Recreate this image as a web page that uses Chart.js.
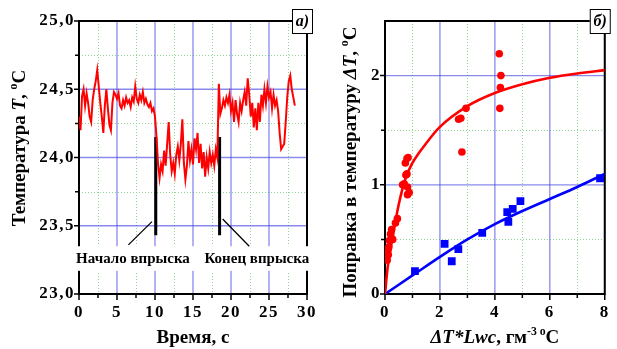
<!DOCTYPE html>
<html>
<head>
<meta charset="utf-8">
<script src="https://cdn.jsdelivr.net/npm/chart.js@4.4.1/dist/chart.umd.min.js"></script>
<style>
  html, body { margin: 0; padding: 0; background: #fff; }
  #wrap { position: relative; width: 617px; height: 349px; }
  #wrap canvas { position: absolute; left: 0; top: 0; }
</style>
</head>
<body>
<div id="wrap">
  <canvas id="tempChart" width="617" height="349"></canvas>
  <canvas id="corrChart" width="617" height="349"></canvas>
</div>
<script>
// --- panel a: temperature record, one sample every 0.2 s ---
const sampleStep = 0.2;
const temperature = [
  24.30, 24.20, 24.45, 24.50, 24.38, 24.47, 24.40, 24.30, 24.26, 24.42,
  24.50, 24.56, 24.64, 24.52, 24.40, 24.30, 24.18, 24.38, 24.50, 24.36,
  24.24, 24.20, 24.40, 24.48, 24.46, 24.43, 24.47, 24.38, 24.36, 24.42,
  24.38, 24.44, 24.40, 24.42, 24.37, 24.44, 24.41, 24.52, 24.43, 24.40,
  24.46, 24.42, 24.48, 24.40, 24.43, 24.39, 24.37, 24.40, 24.34, 24.36,
  24.30, 24.15, 23.95, 23.85, 23.95, 23.90, 24.05, 23.94, 24.10, 24.26,
  24.02, 23.90, 23.96, 23.88, 24.02, 24.08, 23.98, 24.10, 24.28, 23.96,
  23.84, 23.94, 24.12, 23.98, 24.06, 23.95, 24.14, 24.06, 24.18, 23.96,
  24.10, 23.92, 24.04, 23.86, 24.00, 23.92, 24.04, 23.96, 24.02, 23.94,
  24.06, 24.00, 24.54, 24.32, 24.36, 24.42, 24.38, 24.44, 24.40, 24.46,
  24.34, 24.40, 24.26, 24.42, 24.32, 24.26, 24.40, 24.34, 24.42, 24.48,
  24.38, 24.58, 24.46, 24.30, 24.40, 24.22, 24.36, 24.20, 24.40, 24.26,
  24.46, 24.38, 24.50, 24.40, 24.52, 24.44, 24.48, 24.36, 24.46, 24.38,
  24.42, 24.34, 24.18, 24.06, 24.08, 24.10, 24.26, 24.44, 24.56, 24.60,
  24.50, 24.44, 24.38
];
const injStart = 10.1;     // s
const injEnd = 18.5;       // s
const injMarkTop = 24.15;
const injMarkBottom = 23.43;
const startArrow = [{ x: 6.5, y: 23.36 }, { x: 9.6, y: 23.53 }];
const endArrow = [{ x: 18.9, y: 23.55 }, { x: 22.4, y: 23.35 }];

const tempXTicks = [0, 5, 10, 15, 20, 25, 30];
const tempXMinor = [2.5, 7.5, 12.5, 17.5, 22.5, 27.5];
const tempYTicks = [23.0, 23.5, 24.0, 24.5, 25.0];
const tempYMinor = [23.25, 23.75, 24.25, 24.75];

// --- panel б: correction vs ΔT*Lwc ---
const redX = [0.06, 0.08, 0.10, 0.12, 0.14, 0.16, 0.20, 0.24, 0.28, 0.38, 0.45,
              0.64, 0.70, 0.76, 0.80, 0.82, 0.82, 0.88, 0.74, 0.80, 0.84,
              2.68, 2.76, 2.80, 2.95, 4.18, 4.20, 4.22, 4.16];
const redY = [0.36, 0.31, 0.40, 0.36, 0.43, 0.49, 0.55, 0.59, 0.50, 0.65, 0.69,
              1.00, 1.01, 1.09, 1.10, 0.98, 0.91, 0.93, 1.20, 1.24, 1.25,
              1.60, 1.61, 1.30, 1.70, 1.70, 1.89, 2.00, 2.20];
const blueX = [1.09, 2.17, 2.43, 2.67, 3.54, 4.45, 4.49, 4.65, 4.93, 7.83];
const blueY = [0.21, 0.46, 0.30, 0.41, 0.56, 0.75, 0.66, 0.78, 0.85, 1.06];
const redFitX = [0, 0.1, 0.25, 0.5, 0.75, 1, 1.5, 2, 3, 4, 5, 6, 7, 8];
const redFitY = [0, 0.25, 0.48, 0.82, 1.06, 1.20, 1.38, 1.53, 1.72, 1.84, 1.92, 1.98, 2.02, 2.05];
const blueFitX = [0, 1, 2, 3, 4, 5, 6, 7, 8];
const blueFitY = [0, 0.17, 0.34, 0.50, 0.64, 0.76, 0.87, 0.98, 1.10];

const corrXTicks = [0, 2, 4, 6, 8];
const corrXMinor = [1, 3, 5, 7];
const corrYTicks = [0, 1, 2];
const corrYMinor = [0.5, 1.5];

const serif = '"Liberation Serif", "Times New Roman", serif';
const toXY = (xs, ys) => xs.map((x, i) => ({ x: x, y: ys[i] }));

// text made of plain / italic / superscript pieces, centred on (cx, cy)
function drawRich(ctx, parts, cx, cy, size, angle) {
  const fontOf = p => (p.i ? 'italic ' : '') + 'bold ' + (p.sup ? size * 0.62 : size) + 'px ' + serif;
  let total = 0;
  parts.forEach(p => { ctx.font = fontOf(p); total += ctx.measureText(p.t).width; });
  ctx.save();
  ctx.translate(cx, cy);
  ctx.rotate(angle || 0);
  ctx.fillStyle = '#000';
  ctx.textBaseline = 'alphabetic';
  ctx.textAlign = 'left';
  let x = -total / 2;
  const base = size * 0.34;
  parts.forEach(p => {
    ctx.font = fontOf(p);
    ctx.fillText(p.t, x, p.sup ? base - size * 0.42 : base);
    x += ctx.measureText(p.t).width;
  });
  ctx.restore();
}

function panelDecor(cfg) {
  return {
    id: 'panelDecor',
    beforeDraw(chart) {
      // wider spacing for the tick numbers
      chart.ctx.letterSpacing = '1.5px';
    },
    beforeDatasetsDraw(chart) {
      const { ctx, chartArea: a, scales: { x, y } } = chart;
      ctx.letterSpacing = '0px';
      const vline = px => { ctx.beginPath(); ctx.moveTo(px, a.top); ctx.lineTo(px, a.bottom); ctx.stroke(); };
      const hline = py => { ctx.beginPath(); ctx.moveTo(a.left, py); ctx.lineTo(a.right, py); ctx.stroke(); };
      ctx.save();
      // minor grid
      ctx.strokeStyle = 'rgba(140,210,140,0.95)';
      ctx.lineWidth = 1;
      ctx.setLineDash([1, 2]);
      cfg.xMinor.forEach(v => vline(Math.round(x.getPixelForValue(v)) + 0.5));
      cfg.yMinor.forEach(v => hline(Math.round(y.getPixelForValue(v)) + 0.5));
      // major grid
      ctx.setLineDash([]);
      ctx.strokeStyle = 'rgba(60,60,225,0.6)';
      ctx.lineWidth = 1.3;
      cfg.xMajor.forEach(v => vline(x.getPixelForValue(v)));
      cfg.yMajor.forEach(v => hline(y.getPixelForValue(v)));
      // frame
      ctx.strokeStyle = '#000';
      ctx.lineWidth = 2;
      ctx.strokeRect(a.left, a.top, a.right - a.left, a.bottom - a.top);
      // outward ticks
      ctx.lineWidth = 1.5;
      ctx.beginPath();
      cfg.xMajor.forEach(v => { const p = x.getPixelForValue(v); ctx.moveTo(p, a.bottom); ctx.lineTo(p, a.bottom + 6); });
      cfg.xMinor.forEach(v => { const p = x.getPixelForValue(v); ctx.moveTo(p, a.bottom); ctx.lineTo(p, a.bottom + 4); });
      cfg.yMajor.forEach(v => { const p = y.getPixelForValue(v); ctx.moveTo(a.left, p); ctx.lineTo(a.left - 5, p); });
      cfg.yMinor.forEach(v => { const p = y.getPixelForValue(v); ctx.moveTo(a.left, p); ctx.lineTo(a.left - 4, p); });
      ctx.stroke();
      // white strip behind the event captions
      if (cfg.band) {
        const t = y.getPixelForValue(cfg.band.top), b = y.getPixelForValue(cfg.band.bottom);
        ctx.fillStyle = '#fff';
        ctx.fillRect(a.left - 8, t, a.right - a.left + 12, b - t);
      }
      ctx.restore();
    },
    afterDatasetsDraw(chart) {
      const { ctx, chartArea: a, scales: { x, y } } = chart;
      ctx.save();
      (cfg.captions || []).forEach(c => {
        ctx.font = 'bold 15px ' + serif;
        ctx.fillStyle = '#000';
        ctx.textAlign = 'center';
        ctx.textBaseline = 'middle';
        ctx.fillText(c.text, x.getPixelForValue(c.x), y.getPixelForValue(c.y));
      });
      // panel letter
      const bx = a.right - 15, bw = 20, by = 9, bh = 24;
      ctx.fillStyle = '#fff';
      ctx.fillRect(bx, by, bw, bh);
      ctx.strokeStyle = '#000';
      ctx.lineWidth = 1;
      ctx.strokeRect(bx + 0.5, by + 0.5, bw, bh);
      ctx.font = 'italic bold 16px ' + serif;
      ctx.fillStyle = '#000';
      ctx.textAlign = 'center';
      ctx.textBaseline = 'middle';
      ctx.fillText(cfg.letter, bx + bw / 2 + 0.5, by + bh / 2 + 1);
      // axis titles
      drawRich(ctx, cfg.xTitle, (a.left + a.right) / 2, 337, 19, 0);
      drawRich(ctx, cfg.yTitle, cfg.yTitleX, cfg.yTitleY, 19, -Math.PI / 2);
      ctx.restore();
    }
  };
}

function axisOptions(min, max, ticks, label, fit) {
  return {
    type: 'linear', min: min, max: max,
    grid: { display: false, drawTicks: false },
    border: { display: false },
    afterBuildTicks: s => { s.ticks = ticks.map(v => ({ value: v })); },
    afterFit: fit,
    ticks: {
      autoSkip: false, maxRotation: 0, color: '#000',
      font: { family: serif, size: 17, weight: 'bold' },
      callback: label
    }
  };
}

const common = {
  responsive: false,
  animation: false,
  events: [],
  plugins: { legend: { display: false }, tooltip: { enabled: false } }
};

// panel a
const tempX = axisOptions(0, 30, tempXTicks, v => String(v), s => { s.height = 55; });
tempX.ticks.padding = 8;
const tempY = axisOptions(23, 25, tempYTicks, v => v.toFixed(1).replace('.', ','), s => { s.width = 79; });
tempY.ticks.padding = 4;

new Chart(document.getElementById('tempChart'), {
  type: 'line',
  data: {
    datasets: [
      { data: temperature.map((v, i) => ({ x: +(i * sampleStep).toFixed(1), y: v })),
        borderColor: '#ff0000', borderWidth: 2, pointRadius: 0, tension: 0 },
      { data: [{ x: injStart, y: injMarkTop }, { x: injStart, y: injMarkBottom }],
        borderColor: '#000', borderWidth: 3, pointRadius: 0 },
      { data: [{ x: injEnd, y: injMarkTop }, { x: injEnd, y: injMarkBottom }],
        borderColor: '#000', borderWidth: 3, pointRadius: 0 },
      { data: startArrow, borderColor: '#000', borderWidth: 1.3, pointRadius: 0, clip: false },
      { data: endArrow, borderColor: '#000', borderWidth: 1.3, pointRadius: 0, clip: false }
    ]
  },
  options: Object.assign({}, common, {
    layout: { padding: { left: 0, right: 310, top: 21, bottom: 0 } },
    scales: { x: tempX, y: tempY }
  }),
  plugins: [panelDecor({
    xMajor: tempXTicks, xMinor: tempXMinor, yMajor: tempYTicks, yMinor: tempYMinor,
    band: { top: 23.35, bottom: 23.17 },
    captions: [
      { text: 'Начало впрыска', x: 7.1, y: 23.255 },
      { text: 'Конец впрыска', x: 23.4, y: 23.255 }
    ],
    letter: 'а)',
    xTitle: [{ t: 'Время, с' }],
    yTitle: [{ t: 'Температура ' }, { t: 'T', i: true }, { t: ', ' }, { t: 'o', sup: true }, { t: 'C' }],
    yTitleX: 19, yTitleY: 148
  })]
});

// panel б
const corrX = axisOptions(0, 8, corrXTicks, v => String(v), s => { s.height = 55; });
corrX.ticks.padding = 8;
const corrY = axisOptions(0, 2.5, corrYTicks, v => String(v), s => { s.width = 75; });
corrY.ticks.padding = 4;

new Chart(document.getElementById('corrChart'), {
  type: 'scatter',
  data: {
    datasets: [
      { data: toXY(redFitX, redFitY), showLine: true, borderColor: '#ff0000', borderWidth: 2.6,
        pointRadius: 0, cubicInterpolationMode: 'monotone' },
      { data: toXY(blueFitX, blueFitY), showLine: true, borderColor: '#0000ff', borderWidth: 2.6,
        pointRadius: 0, cubicInterpolationMode: 'monotone' },
      { data: toXY(redX, redY), pointStyle: 'circle', pointRadius: 3.8,
        backgroundColor: '#ff0000', borderWidth: 0 },
      { data: toXY(blueX, blueY), pointStyle: 'rect', pointRadius: 5.5,
        backgroundColor: '#0000ff', borderWidth: 0 }
    ]
  },
  options: Object.assign({}, common, {
    layout: { padding: { left: 310, right: 4, top: 21, bottom: 0 } },
    scales: { x: corrX, y: corrY }
  }),
  plugins: [panelDecor({
    xMajor: corrXTicks, xMinor: corrXMinor, yMajor: corrYTicks, yMinor: corrYMinor,
    letter: 'б)',
    xTitle: [{ t: 'ΔT*Lwc', i: true }, { t: ', гм' }, { t: '-3 o', sup: true }, { t: 'C' }],
    yTitle: [{ t: 'Поправка в температуру ' }, { t: 'ΔT', i: true }, { t: ', ' }, { t: 'o', sup: true }, { t: 'C' }],
    yTitleX: 350, yTitleY: 162
  })]
});
</script>
</body>
</html>
